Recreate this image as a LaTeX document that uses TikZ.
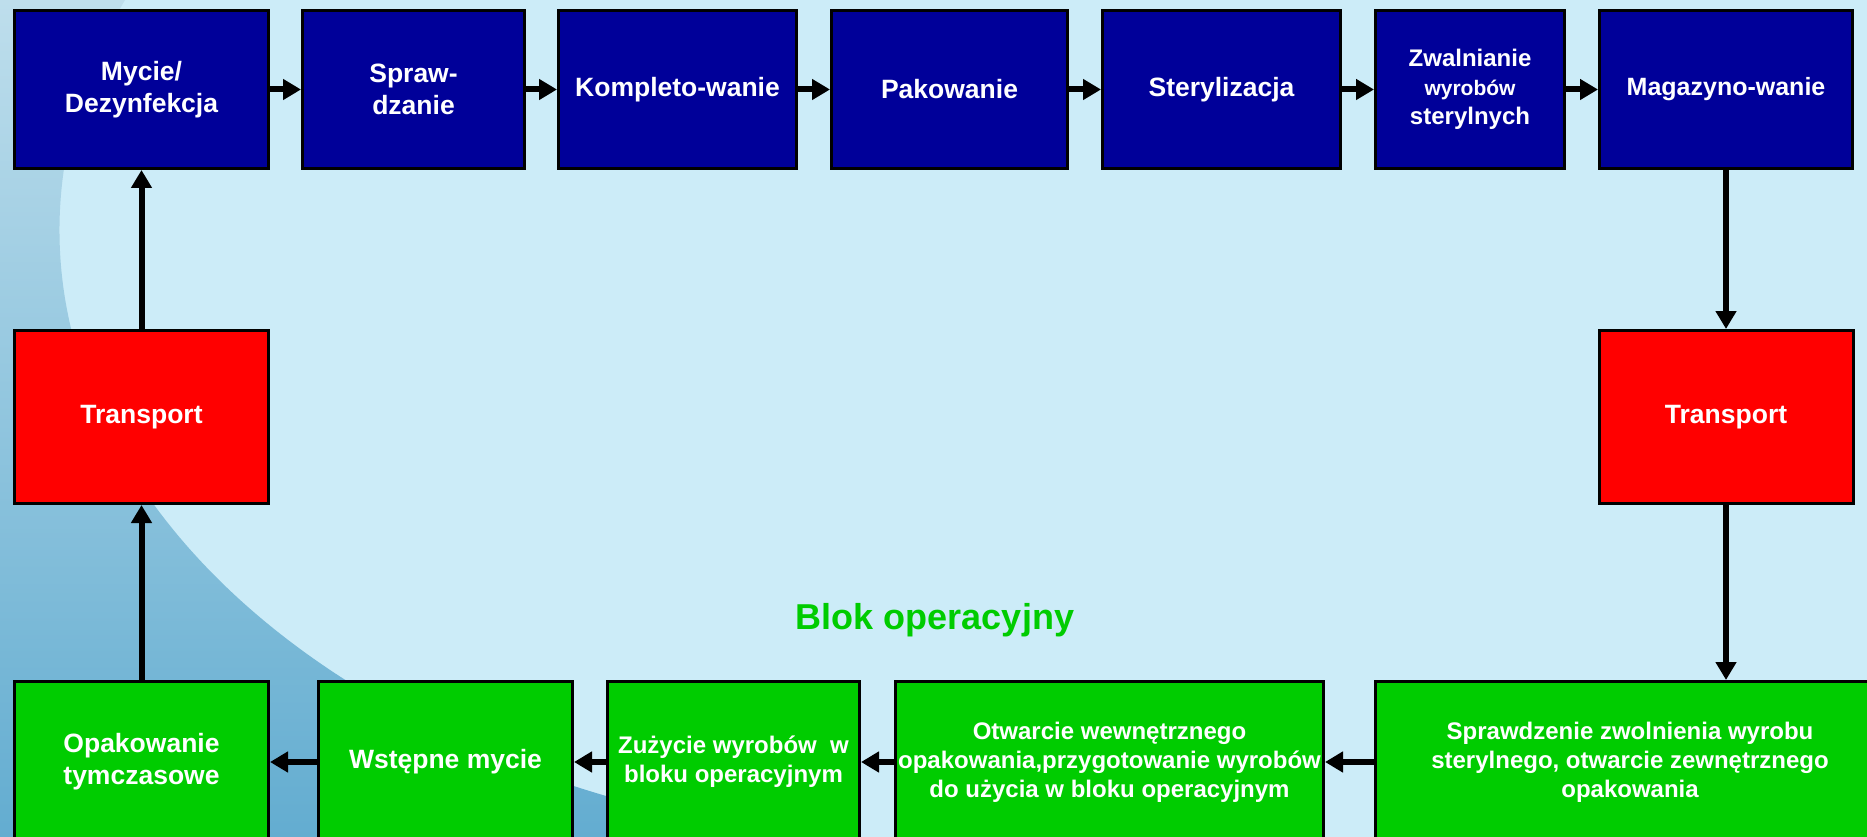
\documentclass[tikz,border=0pt]{standalone}
\usepackage{fontspec}
\setmainfont{Liberation Sans}
\usetikzlibrary{arrows.meta}

\definecolor{granat}{RGB}{0,0,153}
\definecolor{czerwony}{RGB}{255,0,0}
\definecolor{zielony}{RGB}{0,204,0}
\definecolor{tlo}{RGB}{204,236,248}
\definecolor{tlojasne}{RGB}{190,222,236}
\definecolor{tlociemne}{RGB}{98,172,208}

\tikzset{
  etap/.style={draw=black, line width=3pt, text=white, align=center, inner sep=0pt,
    font=\bfseries\fontsize{26.5}{32}\selectfont},
  gora/.style={etap, fill=granat, minimum height=158pt},
  transport/.style={etap, fill=czerwony, minimum height=173pt, minimum width=254pt},
  dol/.style={etap, fill=zielony, minimum height=161pt},
  drobny/.style={font=\bfseries\fontsize{24}{29}\selectfont},
  strzalka/.style={line width=6pt, -{Triangle[length=18pt,width=20pt]}}
}

\begin{document}
\begin{tikzpicture}[x=1pt,y=-1pt]
\useasboundingbox (0,0) rectangle (1867,837);
\clip (0,0) rectangle (1867,837);
\fill[tlo] (0,0) rectangle (1867,837);
\shade[top color=tlojasne, bottom color=tlociemne] (0,0) -- (125,0)
  arc[start angle=202, end angle=90, x radius=900, y radius=615] -- (0,837) -- cycle;

% gorny rzad
\node[gora, minimum width=254pt] (myc) at (141.5,89.5) {Mycie/\\Dezynfekcja};
\node[gora, minimum width=222pt] (spr) at (413.5,89.5) {Spraw-\\dzanie};
\node[gora, minimum width=238pt] (kom) at (677.5,89.5) {Kompleto-wanie};
\node[gora, minimum width=236pt] (pak) at (949.5,89.5) {Pakowanie};
\node[gora, minimum width=238pt] (ste) at (1221.5,89.5) {Sterylizacja};
\node[gora, drobny, minimum width=189pt] (zwa) at (1470,89.5) {Zwalnianie\\{\fontsize{21}{25}\selectfont wyrobów}\\sterylnych};
\node[gora, minimum width=253pt, font=\bfseries\fontsize{25}{30}\selectfont] (mag) at (1726,89.5) {Magazyno-wanie};

\node[transport] (tl) at (141.5,417) {Transport};
\node[transport] (tr) at (1726,417) {Transport};

% blok operacyjny
\node[dol, minimum width=254pt] (opa) at (141.5,762) {Opakowanie\\tymczasowe};
\node[dol, minimum width=254pt] (wst) at (445.5,762) {Wstępne mycie};
\node[dol, drobny, minimum width=252pt] (zuz) at (733.5,762) {Zużycie wyrobów~ w\\bloku operacyjnym};
\node[dol, drobny, minimum width=428pt] (otw) at (1109.5,762) {Otwarcie wewnętrznego\\opakowania,przygotowanie wyrobów\\do użycia w bloku operacyjnym};
\node[dol, drobny, minimum width=509pt] (spz) at (1630,762) {Sprawdzenie zwolnienia wyrobu\\sterylnego, otwarcie zewnętrznego\\opakowania};
\node[text=zielony, font=\bfseries\fontsize{36}{43}\selectfont] (blok) at (935,620) {Blok operacyjny};

\foreach \a/\b in {myc/spr,spr/kom,kom/pak,pak/ste,ste/zwa,zwa/mag,mag/tr,spz/otw,otw/zuz,zuz/wst,wst/opa,opa/tl,tl/myc}
  \draw[strzalka] (\a) -- (\b);
\draw[strzalka] (tr) -- (tr |- spz.north);
\end{tikzpicture}
\end{document}
